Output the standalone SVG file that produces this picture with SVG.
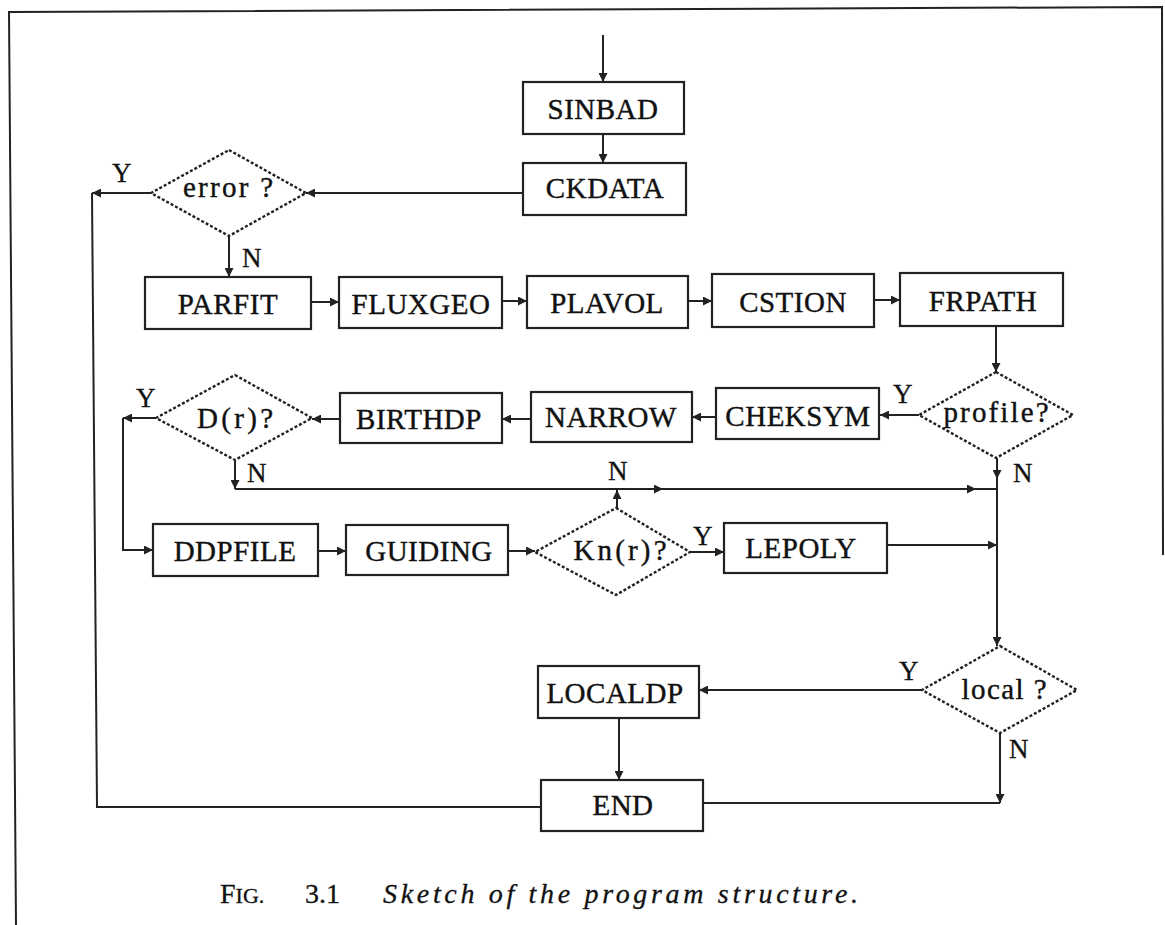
<svg xmlns="http://www.w3.org/2000/svg" width="1165" height="925" viewBox="0 0 1165 925">
<defs>
<style>
.box{fill:#fff;stroke:#222;stroke-width:2.2}
.dia{fill:none;stroke:#222;stroke-width:2.4;stroke-dasharray:3 2}
.ln{fill:none;stroke:#222;stroke-width:2}
.lbl{font-family:"Liberation Serif",serif;font-size:29px;fill:#111;stroke:#111;stroke-width:0.4;text-anchor:middle;letter-spacing:0.5px}
.dl{font-family:"Liberation Serif",serif;font-size:29px;fill:#111;stroke:#111;stroke-width:0.4;text-anchor:middle}
.yn{font-family:"Liberation Serif",serif;font-size:27px;fill:#111;stroke:#111;stroke-width:0.3}
.cap{font-family:"Liberation Serif",serif;font-size:28px;fill:#111;stroke:#111;stroke-width:0.3}
</style>
<marker id="ah" viewBox="0 0 10 10" refX="10" refY="5" markerWidth="10" markerHeight="9" markerUnits="userSpaceOnUse" orient="auto">
<path d="M0,0 L10,5 L0,10 z" fill="#222"/>
</marker>
</defs>
<rect width="1165" height="925" fill="#fff"/>
<g id="frame">
<path class="ln" d="M16,925 L9,12 L1162,7 L1163,555"/>
</g>
<g id="connectors">
<path class="ln" marker-end="url(#ah)" d="M603,35 V82"/>
<path class="ln" marker-end="url(#ah)" d="M603,134 V163"/>
<path class="ln" marker-end="url(#ah)" d="M523,193 H306"/>
<path class="ln" marker-end="url(#ah)" d="M151,193 H92"/>
<path class="ln" d="M92,193 L97,807 H541"/>
<path class="ln" marker-end="url(#ah)" d="M229,236 V277"/>
<path class="ln" marker-end="url(#ah)" d="M311,302 H339"/>
<path class="ln" marker-end="url(#ah)" d="M502,301 H527"/>
<path class="ln" marker-end="url(#ah)" d="M688,301 H712"/>
<path class="ln" marker-end="url(#ah)" d="M874,300 H900"/>
<path class="ln" marker-end="url(#ah)" d="M996,326 V372"/>
<path class="ln" marker-end="url(#ah)" d="M919,415 H880"/>
<path class="ln" marker-end="url(#ah)" d="M716,417 H692"/>
<path class="ln" marker-end="url(#ah)" d="M531,419 H502"/>
<path class="ln" marker-end="url(#ah)" d="M340,419 H312"/>
<path class="ln" marker-end="url(#ah)" d="M156,418 H123"/>
<path class="ln" marker-end="url(#ah)" d="M123,418 V550 H153"/>
<path class="ln" marker-end="url(#ah)" d="M235,460 V489"/>
<path class="ln" marker-end="url(#ah)" d="M235,489 H663"/>
<path class="ln" marker-end="url(#ah)" d="M663,489 H976"/>
<path class="ln" d="M976,489 H998"/>
<path class="ln" marker-end="url(#ah)" d="M997,458 V479"/>
<path class="ln" marker-end="url(#ah)" d="M997,479 V646"/>
<path class="ln" marker-end="url(#ah)" d="M318,551 H346"/>
<path class="ln" marker-end="url(#ah)" d="M508,551 H535"/>
<path class="ln" marker-end="url(#ah)" d="M690,552 H724"/>
<path class="ln" marker-end="url(#ah)" d="M617,508 V490"/>
<path class="ln" marker-end="url(#ah)" d="M887,545 H997"/>
<path class="ln" marker-end="url(#ah)" d="M922,690 H699"/>
<path class="ln" marker-end="url(#ah)" d="M619,718 V780"/>
<path class="ln" marker-end="url(#ah)" d="M1000,733 V803"/>
<path class="ln" d="M1000,803 H703"/>
</g>
<g id="labels">
<text class="yn" x="112" y="182">Y</text>
<text class="yn" x="242" y="267">N</text>
<text class="yn" x="136" y="407">Y</text>
<text class="yn" x="247" y="482">N</text>
<text class="yn" x="608" y="480">N</text>
<text class="yn" x="693" y="545">Y</text>
<text class="yn" x="893" y="403">Y</text>
<text class="yn" x="1013" y="482">N</text>
<text class="yn" x="899" y="680">Y</text>
<text class="yn" x="1009" y="758">N</text>
</g>
<g id="SINBAD"><rect class="box" x="523" y="82" width="161" height="52"/><text class="lbl" x="603" y="119">SINBAD</text></g>
<g id="CKDATA"><rect class="box" x="523" y="163" width="163" height="52"/><text class="lbl" x="605" y="198">CKDATA</text></g>
<g id="error"><path class="dia" d="M229,150 L306,193 L229,236 L151,193 Z"/><text class="dl" x="228" y="197" textLength="90" lengthAdjust="spacing">error ?</text></g>
<g id="PARFIT"><rect class="box" x="145" y="277" width="166" height="52"/><text class="lbl" x="228" y="314">PARFIT</text></g>
<g id="FLUXGEO"><rect class="box" x="339" y="277" width="163" height="51"/><text class="lbl" x="421" y="314">FLUXGEO</text></g>
<g id="PLAVOL"><rect class="box" x="527" y="276" width="161" height="52"/><text class="lbl" x="607" y="313">PLAVOL</text></g>
<g id="CSTION"><rect class="box" x="712" y="274" width="162" height="53"/><text class="lbl" x="793" y="312">CSTION</text></g>
<g id="FRPATH"><rect class="box" x="900" y="273" width="163" height="53"/><text class="lbl" x="983" y="311">FRPATH</text></g>
<g id="profile"><path class="dia" d="M996,372 L1073,415 L996,458 L919,415 Z"/><text class="dl" x="996" y="422" textLength="105" lengthAdjust="spacing">profile?</text></g>
<g id="CHEKSYM"><rect class="box" x="716" y="388" width="163" height="51"/><text class="lbl" x="798" y="426">CHEKSYM</text></g>
<g id="NARROW"><rect class="box" x="531" y="392" width="161" height="50"/><text class="lbl" x="611" y="427">NARROW</text></g>
<g id="BIRTHDP"><rect class="box" x="340" y="393" width="162" height="50"/><text class="lbl" x="419" y="429">BIRTHDP</text></g>
<g id="Dr"><path class="dia" d="M235,375 L312,418 L235,460 L156,418 Z"/><text class="dl" x="235" y="428" textLength="76" lengthAdjust="spacing">D(r)?</text></g>
<g id="DDPFILE"><rect class="box" x="153" y="524" width="165" height="52"/><text class="lbl" x="235" y="561">DDPFILE</text></g>
<g id="GUIDING"><rect class="box" x="346" y="525" width="162" height="50"/><text class="lbl" x="429" y="561">GUIDING</text></g>
<g id="Knr"><path class="dia" d="M616,508 L690,552 L616,595 L535,552 Z"/><text class="dl" x="620" y="560" textLength="93" lengthAdjust="spacing">Kn(r)?</text></g>
<g id="LEPOLY"><rect class="box" x="724" y="523" width="163" height="50"/><text class="lbl" x="801" y="558">LEPOLY</text></g>
<g id="local"><path class="dia" d="M1000,646 L1077,690 L1000,733 L922,690 Z"/><text class="dl" x="1004" y="699" textLength="85" lengthAdjust="spacing">local ?</text></g>
<g id="LOCALDP"><rect class="box" x="538" y="666" width="161" height="52"/><text class="lbl" x="615" y="703">LOCALDP</text></g>
<g id="END"><rect class="box" x="541" y="780" width="162" height="51"/><text class="lbl" x="623" y="815">END</text></g>
<g id="caption">
<text class="cap" x="220" y="903">F<tspan font-size="22">IG.</tspan></text>
<text class="cap" x="305" y="903">3.1</text>
<text class="cap" x="383" y="903" font-style="italic" textLength="475" lengthAdjust="spacing">Sketch of the program structure.</text>
</g>
</svg>
